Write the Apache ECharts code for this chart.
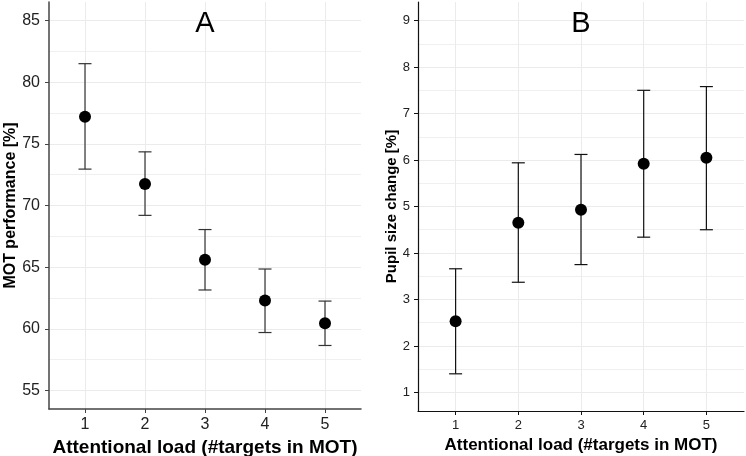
<!DOCTYPE html>
<html>
<head>
<meta charset="utf-8">
<script src="https://cdn.jsdelivr.net/npm/echarts@6/dist/echarts.min.js"></script>
<style>
  html, body { margin: 0; padding: 0; background: #fff; }
  #chart { width: 746px; height: 456px; }
</style>
</head>
<body>
<div id="chart"></div>
<script>
// attentional load (number of targets)
var loads = [1, 2, 3, 4, 5];

// panel A: MOT performance [%]
var motMean = [77.2, 71.75, 65.6, 62.3, 60.45];
var motLow  = [72.95, 69.2, 63.15, 59.7, 58.65];
var motHigh = [81.5, 74.35, 68.05, 64.85, 62.25];

// panel B: pupil size change [%]
var pupilMean = [2.53, 4.65, 4.93, 5.92, 6.05];
var pupilLow  = [1.40, 3.37, 3.75, 4.34, 4.50];
var pupilHigh = [3.66, 5.94, 6.12, 7.50, 7.58];

// tick labels
var xTicks = [1, 2, 3, 4, 5];
var yTicksA = [55, 60, 65, 70, 75, 80, 85];
var yMinorA = [57.5, 62.5, 67.5, 72.5, 77.5, 82.5];
var yTicksB = [1, 2, 3, 4, 5, 6, 7, 8, 9];
var yMinorB = [1.5, 2.5, 3.5, 4.5, 5.5, 6.5, 7.5, 8.5];

var FONT = '"Liberation Sans", Arial, Helvetica, sans-serif';
var GRID_COLOR = '#ebebeb';

function pairs(xs, ys) {
    return xs.map(function (x, i) { return [x, ys[i]]; });
}
function bars(xs, lo, hi) {
    return xs.map(function (x, i) { return [x, lo[i], hi[i]]; });
}

// error bar drawn with the axes' own scales
function errorBar(color, cap) {
    return function (params, api) {
        var x = api.value(0);
        var lo = api.coord([x, api.value(1)]);
        var hi = api.coord([x, api.value(2)]);
        var style = { stroke: color, lineWidth: 1.2 };
        return {
            type: 'group',
            children: [
                { type: 'line', shape: { x1: lo[0], y1: lo[1], x2: hi[0], y2: hi[1] }, style: style },
                { type: 'line', shape: { x1: hi[0] - cap, y1: hi[1], x2: hi[0] + cap, y2: hi[1] }, style: style },
                { type: 'line', shape: { x1: lo[0] - cap, y1: lo[1], x2: lo[0] + cap, y2: lo[1] }, style: style }
            ]
        };
    };
}

function xAxisOf(gridIndex, labelSize, labelMargin, nameSize, nameGap, axisColor, axisWidth) {
    return {
        type: 'value', gridIndex: gridIndex, min: 0.4, max: 5.6,
        name: 'Attentional load (#targets in MOT)',
        nameLocation: 'middle', nameGap: nameGap,
        nameTextStyle: { fontFamily: FONT, fontSize: nameSize, fontWeight: 'bold', color: '#000' },
        axisLine: { show: true, onZero: false, lineStyle: { color: axisColor, width: axisWidth } },
        axisTick: { show: true, length: 4, customValues: xTicks, lineStyle: { color: axisColor } },
        axisLabel: { customValues: xTicks, fontFamily: FONT, fontSize: labelSize, color: '#222', margin: labelMargin },
        splitLine: { show: true, lineStyle: { color: GRID_COLOR, width: 1 } }
    };
}

function yAxisOf(gridIndex, min, max, ticks, name, labelSize, labelMargin, nameSize, nameGap, axisColor, axisWidth) {
    return {
        type: 'value', gridIndex: gridIndex, min: min, max: max,
        name: name, nameLocation: 'middle', nameGap: nameGap,
        nameTextStyle: { fontFamily: FONT, fontSize: nameSize, fontWeight: 'bold', color: '#000' },
        axisLine: { show: true, onZero: false, lineStyle: { color: axisColor, width: axisWidth } },
        axisTick: { show: true, length: 4, customValues: ticks, lineStyle: { color: axisColor } },
        axisLabel: { customValues: ticks, fontFamily: FONT, fontSize: labelSize, color: '#222', margin: labelMargin },
        splitLine: { show: true, lineStyle: { color: GRID_COLOR, width: 1 } }
    };
}

function minorAxisOf(gridIndex, min, max, ticks) {
    return {
        type: 'value', gridIndex: gridIndex, min: min, max: max, position: 'left',
        axisLine: { show: false },
        axisTick: { show: false, customValues: ticks },
        axisLabel: { show: false, customValues: ticks },
        splitLine: { show: true, lineStyle: { color: '#f0f0f0', width: 1 } }
    };
}

var chart = echarts.init(document.getElementById('chart'), null, { renderer: 'canvas' });

var option = {
    animation: false,
    backgroundColor: '#fff',
    grid: [
        { left: 49, top: 2, width: 312, height: 407, outerBoundsMode: 'none', containLabel: false },
        { left: 418, top: 2, width: 326, height: 409, outerBoundsMode: 'none', containLabel: false }
    ],
    xAxis: [
        xAxisOf(0, 16, 8, 19, 22, '#444', 1.5),
        xAxisOf(1, 13, 8, 17, 25, '#111', 1.2)
    ],
    yAxis: [
        yAxisOf(0, 53.5, 86.5, yTicksA, 'MOT performance [%]', 16, 9, 16, 30, '#444', 1.5),
        yAxisOf(1, 0.6, 9.4, yTicksB, 'Pupil size change [%]', 13, 8, 15, 14, '#111', 1.2),
        minorAxisOf(0, 53.5, 86.5, yMinorA),
        minorAxisOf(1, 0.6, 9.4, yMinorB)
    ],
    graphic: [
        { type: 'text', x: 205, y: 9, z: 10, style: { text: 'A', font: '29px ' + FONT, fill: '#000', textAlign: 'center' } },
        { type: 'text', x: 581, y: 9, z: 10, style: { text: 'B', font: '29px ' + FONT, fill: '#000', textAlign: 'center' } }
    ],
    series: [
        {
            type: 'custom', xAxisIndex: 0, yAxisIndex: 0,
            renderItem: errorBar('#333', 6.5),
            data: bars(loads, motLow, motHigh),
            z: 2
        },
        {
            type: 'scatter', xAxisIndex: 0, yAxisIndex: 0,
            symbol: 'circle', symbolSize: 12,
            itemStyle: { color: '#000', opacity: 1 },
            data: pairs(loads, motMean),
            z: 3
        },
        {
            type: 'custom', xAxisIndex: 1, yAxisIndex: 1,
            renderItem: errorBar('#111', 6.5),
            data: bars(loads, pupilLow, pupilHigh),
            z: 2
        },
        {
            type: 'scatter', xAxisIndex: 1, yAxisIndex: 1,
            symbol: 'circle', symbolSize: 12,
            itemStyle: { color: '#000', opacity: 1 },
            data: pairs(loads, pupilMean),
            z: 3
        }
    ]
};

chart.setOption(option);
</script>
</body>
</html>
